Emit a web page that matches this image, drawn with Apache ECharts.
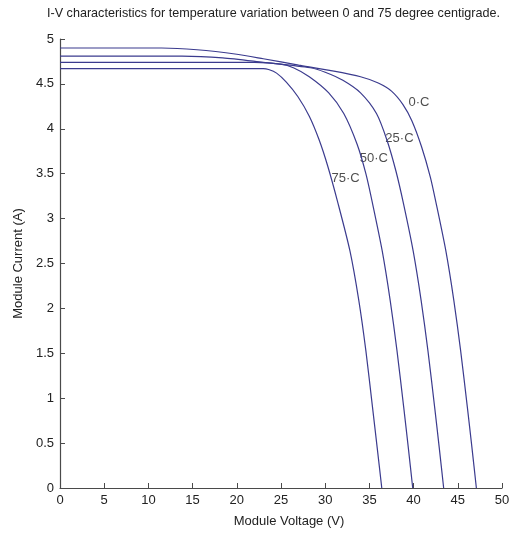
<!DOCTYPE html>
<html>
<head>
<meta charset="utf-8">
<script src="https://cdn.jsdelivr.net/npm/echarts@6/dist/echarts.min.js"></script>
<style>html,body{margin:0;padding:0;background:#fff;}#c{width:526px;height:535px;}</style>
</head>
<body>
<div id="c"></div>
<script>
var titleText = 'I-V characteristics for temperature variation between 0 and 75 degree centigrade.';
var xName = 'Module Voltage (V)';
var yName = 'Module Current (A)';

var v0 = [0, 11.5, 15.5, 20, 23, 27, 30.5, 34, 36, 37.5, 38.8, 39.8, 40.9, 41.9, 42.55, 43.65, 44.55, 45.32, 46.08, 46.6, 47.1];
var i0 = [4.90, 4.90, 4.88, 4.83, 4.78, 4.71, 4.65, 4.58, 4.51, 4.42, 4.27, 4.09, 3.80, 3.46, 3.17, 2.64, 2.09, 1.53, 0.9, 0.45, 0];

var v25 = [0, 13.8, 18.4, 23, 28.3, 30, 32, 34.0, 35.8, 37.0, 38.0, 38.85, 39.95, 40.85, 41.62, 42.38, 42.9, 43.4];
var i25 = [4.81, 4.81, 4.79, 4.74, 4.68, 4.63, 4.54, 4.40, 4.17, 3.87, 3.53, 3.17, 2.64, 2.09, 1.53, 0.9, 0.45, 0];

var v50 = [0, 22, 25, 26.4, 28.2, 30.4, 32.1, 33.6, 34.6, 35.35, 36.45, 37.35, 38.12, 38.88, 39.4, 39.9];
var i50 = [4.74, 4.74, 4.72, 4.68, 4.58, 4.40, 4.17, 3.83, 3.5, 3.17, 2.64, 2.09, 1.53, 0.9, 0.45, 0];

var v75 = [0, 23, 23.6, 24.5, 25.6, 26.9, 28.2, 29.3, 30.3, 31.45, 32.8, 33.8, 34.6, 35.35, 35.88, 36.4];
var i75 = [4.67, 4.67, 4.66, 4.62, 4.52, 4.36, 4.14, 3.88, 3.58, 3.17, 2.64, 2.09, 1.53, 0.9, 0.45, 0];

var labelText = ['0·C', '25·C', '50·C', '75·C'];
var labelV = [40.6, 38.4, 35.5, 32.3];
var labelI = [4.29, 3.89, 3.67, 3.45];

function pairs(v, i) { return v.map(function (x, k) { return [x, i[k]]; }); }

var lineColor = '#3b3b8e';
var font = '"Liberation Sans", Arial, sans-serif';
var axisColor = '#4a4a4a';

var curves = [pairs(v0, i0), pairs(v25, i25), pairs(v50, i50), pairs(v75, i75)];

var series = curves.map(function (d) {
  return {
    type: 'line', data: d, showSymbol: false, smooth: 0.25,
    lineStyle: { color: lineColor, width: 1.2 }, silent: true
  };
});
series.push({
  type: 'scatter', symbolSize: 0, silent: true,
  data: labelV.map(function (x, k) { return { value: [x, labelI[k]], name: labelText[k] }; }),
  label: { show: true, position: 'inside', formatter: function (p) { return p.name; },
    color: '#222', fontSize: 13, fontFamily: font }
});

var chart = echarts.init(document.getElementById('c'), null, { renderer: 'canvas' });
chart.setOption({
  animation: false,
  backgroundColor: '#fff',
  title: { text: titleText, left: 42, top: 2,
    textStyle: { fontSize: 12.6, fontWeight: 'normal', color: '#222', fontFamily: font } },
  grid: { left: 60, right: 24, top: 39, bottom: 47 },
  xAxis: {
    type: 'value', min: 0, max: 50, interval: 5,
    name: xName, nameLocation: 'middle', nameGap: 27,
    nameTextStyle: { fontSize: 13, color: '#222', fontFamily: font, padding: [0, 0, 0, 16] },
    axisLine: { lineStyle: { color: axisColor, width: 1.2 } },
    axisTick: { inside: true, length: 5, lineStyle: { color: axisColor } },
    axisLabel: { color: '#222', fontSize: 13, fontFamily: font, margin: 6 },
    splitLine: { show: false }
  },
  yAxis: {
    type: 'value', min: 0, max: 5, interval: 0.5,
    name: yName, nameLocation: 'middle', nameGap: 35, nameRotate: 90,
    nameTextStyle: { fontSize: 13, color: '#222', fontFamily: font },
    axisLine: { show: true, lineStyle: { color: axisColor, width: 1.2 } },
    axisTick: { show: true, inside: true, length: 5, lineStyle: { color: axisColor } },
    axisLabel: { color: '#222', fontSize: 13, fontFamily: font, margin: 6 },
    splitLine: { show: false }
  },
  series: series
});
</script>
</body>
</html>
